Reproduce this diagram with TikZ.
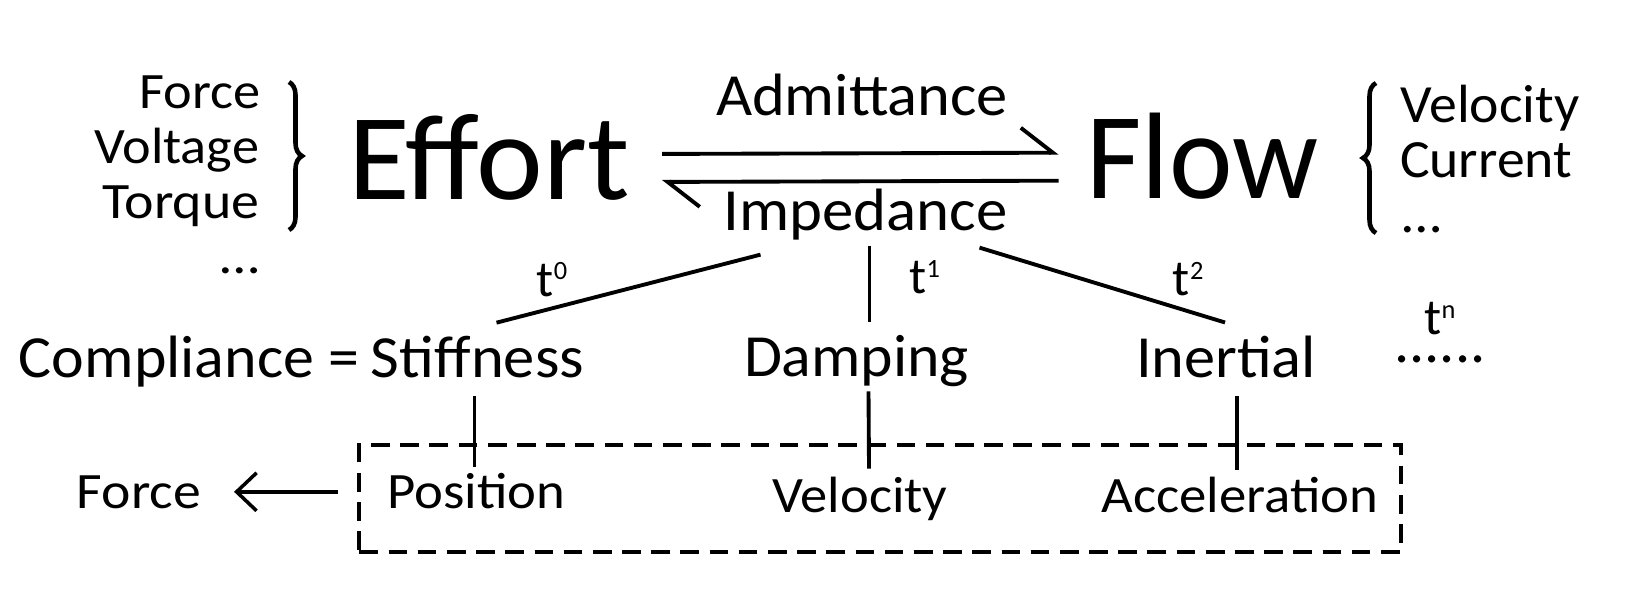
\documentclass[tikz,border=0pt]{standalone}
\usepackage{fontspec}
\setmainfont{Carlito}
\usetikzlibrary{arrows.meta,decorations.pathreplacing,positioning}

\newlength{\pxu}
\setlength{\pxu}{0.01cm}
% text set to the width it has in the picture
\newcommand{\wb}[2]{\resizebox{#1\pxu}{\height}{#2}}
\newcommand{\fsmall}{\fontsize{14.5}{17}\selectfont}
\newcommand{\fside}{\fontsize{15.3}{18}\selectfont}
\newcommand{\fmid}{\fontsize{17}{20}\selectfont}
\newcommand{\fbig}{\fontsize{35}{40}\selectfont}
\newcommand{\tpow}[1]{t\raisebox{4.6pt}{\fontsize{7.5}{9}\selectfont #1}}

\begin{document}
\begin{tikzpicture}[x=0.01cm,y=-0.01cm,line width=1.1pt,
   txt/.style={inner sep=0,outer sep=0,anchor=base,font=\fsmall},
   side/.style={inner sep=0,outer sep=0,anchor=base,font=\fside},
   mid/.style={inner sep=0,outer sep=0,anchor=base,font=\fmid},
   big/.style={inner sep=0,outer sep=0,anchor=base,font=\fbig},
   harp/.style={-{Straight Barb[left,length=3.2mm,width=5mm]}},
   arr/.style={-{Straight Barb[length=2mm,width=3.8mm]}},
   brc/.style={decorate,decoration={brace,amplitude=0.13cm},line width=1.3pt}]
         \useasboundingbox (0,0) rectangle (1631,600) ;
         %\draw[very thin,gray,step=50] (0,0) grid (1631,600) ;
         % effort side
         \node[txt] (force) at (200,108) {\wb{121}{Force}} ;
         \node[txt] (volt) at (176.5,163) {\wb{165}{Voltage}} ;
         \node[txt] (torq) at (181,218) {\wb{157}{Torque}} ;
         \node[txt] (edots) at (240,273) {\wb{39}{…}} ;
         \draw[brc] (289,82) -- (289,230) ;
         \node[big] (eff) at (489,199) {\wb{282}{Effort}} ;
         % flow side
         \node[big] (flow) at (1202.5,198) {\wb{232}{Flow}} ;
         \draw[brc] (1376,233) -- (1376,83) ;
         \node[side] (vel) at (1490,122) {\wb{179}{Velocity}} ;
         \node[side] (cur) at (1486,177) {\wb{172}{Current}} ;
         \node[side] (fdots) at (1421.5,232) {\wb{39}{…}} ;
         % admittance / impedance
         \node[mid] (adm) at (862,115) {\wb{292}{Admittance}} ;
         \node[mid] (imp) at (865.5,230) {\wb{284}{Impedance}} ;
         \draw[harp] ([shift={(32,-3)}]eff.east) -- ([shift={(-28,-3)}]flow.west) ;
         \draw[harp] ([shift={(-28,25)}]flow.west) -- ([shift={(32,25)}]eff.east) ;
         % the three elements
         \node[mid] (stiff) at (477.5,377) {\wb{213}{Stiffness}} ;
         \node[mid,base left=0.12cm of stiff] (compl) {\wb{340}{Compliance =}} ;
         \node[mid] (damp) at (856.5,376) {\wb{225}{Damping}} ;
         \node[mid] (iner) at (1226,377) {\wb{180}{Inertial}} ;
         \node[mid] (dots) at (1440,362) {\wb{91}{......}} ;
         \node[txt,above=0.2cm of dots] (tn) {\tpow{n}} ;
         \draw ([shift={(-105,15)}]imp.south) -- node[txt,pos=.79,above=0.12cm] (t0) {\tpow{0}}
               ([shift={(19,-13)}]stiff.north) ;
         \draw ([shift={(4,6)}]imp.south) -- node[txt,pos=.41,right=0.4cm] (t1) {\tpow{1}}
               ([shift={(13,-13)}]damp.north) ;
         \draw ([shift={(114,8)}]imp.south) -- node[txt,pos=.85,above=0.15cm] (t2) {\tpow{2}}
               ([shift={(-1,-13)}]iner.north) ;
         % variables
         \node[draw,dashed,dash pattern=on 5.3pt off 3pt,inner sep=0,
               minimum width=10.41cm,minimum height=1.07cm] (box) at (880.2,498.5) {} ;
         \node[txt] (pos) at (476.5,508) {\wb{178}{Position}} ;
         \node[txt] (velo) at (860,512) {\wb{175}{Velocity}} ;
         \node[txt] (acc) at (1240,512) {\wb{277}{Acceleration}} ;
         \node[txt] (frc) at (139,508) {\wb{124}{Force}} ;
         \draw ([shift={(-3,19)}]stiff.south) -- ([shift={(-2,-6)}]pos.north) ;
         \draw ([shift={(12,5)}]damp.south) -- ([shift={(9,-8)}]velo.north) ;
         \draw ([shift={(11,19)}]iner.south) -- ([shift={(-3,-7)}]acc.north) ;
         \draw[arr,line width=1pt,shorten <=0.19cm,shorten >=0.33cm] (box.west |- frc.east) -- (frc.east) ;
\end{tikzpicture}
\end{document}
